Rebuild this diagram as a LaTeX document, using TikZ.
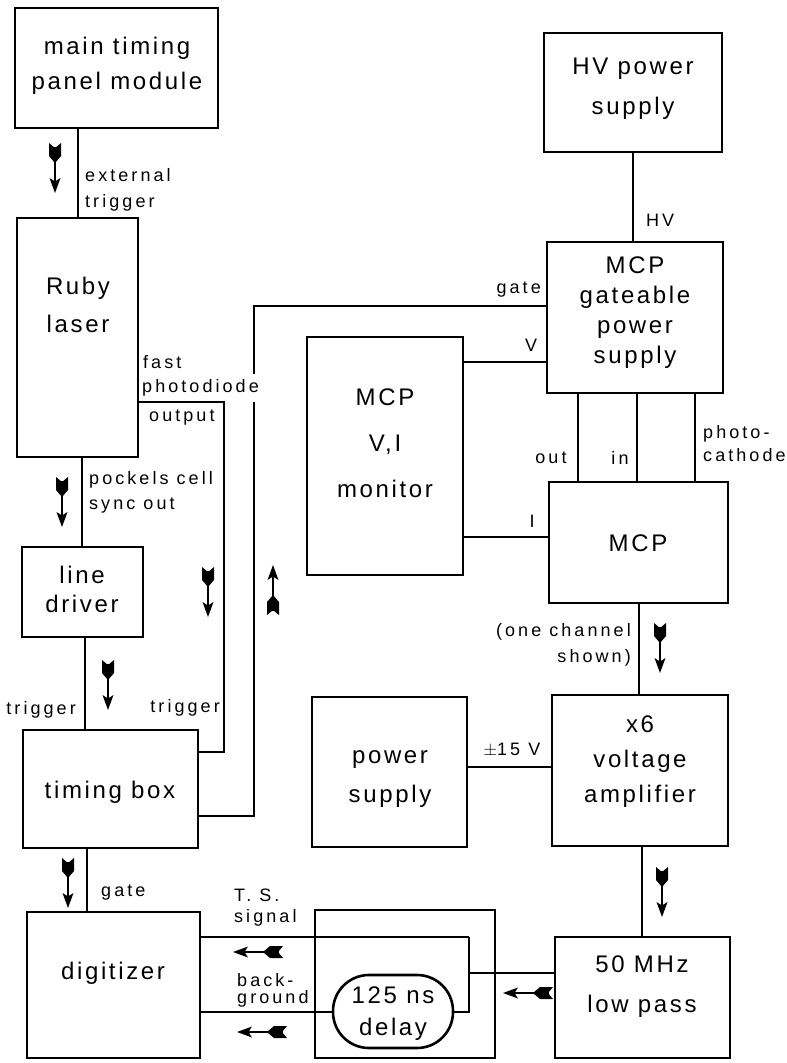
\documentclass[tikz,border=0pt]{standalone}
\usepackage{fontspec}
\newfontfamily\bigfam[LetterSpace=11]{Liberation Sans}
\newfontfamily\labfam[LetterSpace=17]{Liberation Sans}
\tikzset{
  box/.style={draw, line width=2.6pt, outer sep=0pt, inner sep=0pt},
  conn/.style={line width=2.2pt},
  farrow/.pic={
    \draw[line width=1.7pt] (4,0) -- (40,0);
    \fill (0,-6) -- (5,0) -- (0,6) -- (13,6) -- (20,0) -- (13,-6) -- cycle;
    \fill (50,0) -- (35,-5.5) -- (38.5,0) -- (35,5.5) -- cycle;
  },
  boxtext/.style={font={\bigfam\fontsize{24}{#1}\selectfont}, align=center, inner sep=0pt},
  boxtext/.default=35,
  labtext/.style={font={\labfam\fontsize{18}{#1}\selectfont}, align=left, inner sep=1pt},
  labtext/.default=25,
}
\begin{document}
\begin{tikzpicture}[x=1pt,y=-1pt]
\fill[white] (0,0) rectangle (787,1063);
\useasboundingbox (0,0) rectangle (787,1063);

% ---------- boxes ----------
\node[box, minimum width=203, minimum height=120] (main) at (116.5,68) {};
\node[box, minimum width=121, minimum height=239] (ruby) at (77.5,337.5) {};
\node[box, minimum width=121, minimum height=90] (linedrv) at (82.5,592) {};
\node[box, minimum width=175, minimum height=118] (timing) at (110.5,789) {};
\node[box, minimum width=173, minimum height=146] (digit) at (113.5,985) {};
\node[box, minimum width=178, minimum height=119] (hv) at (633,92.5) {};
\node[box, minimum width=176, minimum height=151] (gpsu) at (635,317.5) {};
\node[box, minimum width=156, minimum height=238] (mon) at (385,456) {};
\node[box, minimum width=179, minimum height=121] (mcp) at (638.5,542.5) {};
\node[box, minimum width=176, minimum height=151] (amp) at (640,770.5) {};
\node[box, minimum width=155, minimum height=150] (psu) at (389.5,772) {};
\node[box, minimum width=175, minimum height=121] (lp) at (642.5,997.5) {};
\node[box, minimum width=180, minimum height=148] (dbox) at (405,984) {};
\node[box, rounded corners=36pt, minimum width=120, minimum height=73] (delay) at (393,1011.5) {};

% ---------- box texts ----------
\node[boxtext=35] (main-t) at (117,66) {main timing\\panel module};
\node[boxtext=38] (ruby-t) at (78,305) {Ruby\\laser};
\node[boxtext=29] (linedrv-t) at (82,589) {line\\driver};
\node[boxtext] (timing-t) at (110,792) {timing box};
\node[boxtext] (digit-t) at (113,973) {digitizer};
\node[boxtext=40] (hv-t) at (633,89) {HV power\\supply};
\node[boxtext=30] (gpsu-t) at (635,313) {MCP\\gateable\\power\\supply};
\node[boxtext=46] (mon-t) at (385,443) {MCP\\V,I\\monitor};
\node[boxtext] (mcp-t) at (638,543) {MCP};
\node[boxtext=35] (amp-t) at (640,762) {x6\\voltage\\amplifier};
\node[boxtext=39] (psu-t) at (390,779) {power\\supply};
\node[boxtext=40] (lp-t) at (642,987) {50 MHz\\low pass};
\node[boxtext=32] (delay-t) at (393,1014) {125 ns\\delay};

% ---------- junction coordinates ----------
\coordinate (jt) at (469,937);
\coordinate (jm) at (469,973);
\coordinate (jb) at (469,1012);
\coordinate (pd1) at (224,402);
\coordinate (pd2) at (224,752);
\coordinate (g1) at (254,816);
\coordinate (g2) at (254,306);

% ---------- connectors ----------
\draw[conn] (main.south -| 78,0) -- (ruby.north -| 78,0);
\draw[conn] (ruby.south -| 82,0) -- (linedrv.north -| 82,0);
\draw[conn] (linedrv.south -| 85,0) -- (timing.north -| 85,0);
\draw[conn] (timing.south -| 87,0) -- (digit.north -| 87,0);
\draw[conn] (timing.east |- g1) -- (g1) -- (g2) -- (gpsu.west |- g2);
\draw[conn] (hv.south -| 633,0) -- (gpsu.north -| 633,0);
\draw[conn] (mon.east |- 0,362) -- (gpsu.west |- 0,362);
\draw[conn] (mon.east |- 0,537) -- (mcp.west |- 0,537);
\draw[conn] (gpsu.south -| 578,0) -- (mcp.north -| 578,0);
\draw[conn] (gpsu.south -| 637,0) -- (mcp.north -| 637,0);
\draw[conn] (gpsu.south -| 695,0) -- (mcp.north -| 695,0);
\draw[conn] (mcp.south -| 639,0) -- (amp.north -| 639,0);
\draw[conn] (psu.east |- 0,767) -- (amp.west |- 0,767);
\draw[conn] (amp.south -| 642,0) -- (lp.north -| 642,0);
\draw[conn] (lp.west |- jm) -- (jm);
\draw[conn] (jt) -- (jb) -- (delay.east |- jb);
\draw[conn] (jt) -- (digit.east |- jt);
\draw[conn] (delay.west |- jb) -- (digit.east |- jb);

% label that interrupts the gate line
\node[labtext, anchor=west, fill=white, inner ysep=6pt, inner xsep=0pt] (l-pd) at (142,388) {photodiode};
\draw[conn] (ruby.east |- pd1) -- (pd1) -- (pd2) -- (timing.east |- pd2);

% ---------- flow arrows (feathered tail at the start point) ----------
\pic[rotate=-90] (fa1) at (55,143) {farrow};
\pic[rotate=-90] (fa2) at (62,477) {farrow};
\pic[rotate=-90] (fa3) at (108,660) {farrow};
\pic[rotate=-90] (fa4) at (68,858) {farrow};
\pic[rotate=-90] (fa5) at (208,567) {farrow};
\pic[rotate=90] (fa6) at (273,615) {farrow};
\pic[rotate=-90] (fa7) at (660,623) {farrow};
\pic[rotate=-90] (fa8) at (662,867) {farrow};
\pic[rotate=180] (fa9) at (283,952) {farrow};
\pic[rotate=180] (fa10) at (287,1032) {farrow};
\pic[rotate=180] (fa11) at (553,993) {farrow};

% ---------- labels ----------
\node[labtext=26, anchor=west] (l-ext) at (84,190) {external\\trigger};
\node[labtext, anchor=west] (l-fast) at (142,362) {fast};
\node[labtext, anchor=west] (l-out) at (148,418) {output};
\node[labtext=25, anchor=west] (l-pock) at (88,492) {pockels cell\\sync out};
\node[labtext, anchor=east] (l-trig1) at (77,710) {trigger};
\node[labtext, anchor=east] (l-trig2) at (221,708) {trigger};
\node[labtext, anchor=west] (l-gate1) at (100,893) {gate};
\node[labtext, anchor=east] (l-gate2) at (542,290) {gate};
\node[labtext, anchor=west] (l-hv) at (645,220) {HV};
\node[labtext] (l-v) at (531,345) {V};
\node[labtext] (l-i) at (532,521) {I};
\node[labtext] (l-outp) at (551,458) {out};
\node[labtext] (l-in) at (620,458) {in};
\node[labtext=23, anchor=west] (l-pc) at (702,444) {photo-\\cathode};
\node[labtext=26, anchor=east, align=right] (l-one) at (632,645) {(one channel\\shown)};
\node[labtext] (l-15) at (512,750) {$\pm$15 V};
\node[labtext=21, anchor=west] (l-ts) at (233,908) {T. S.\\signal};
\node[labtext=17, anchor=west] (l-bg) at (236,990) {back-\\ground};
\end{tikzpicture}
\end{document}
